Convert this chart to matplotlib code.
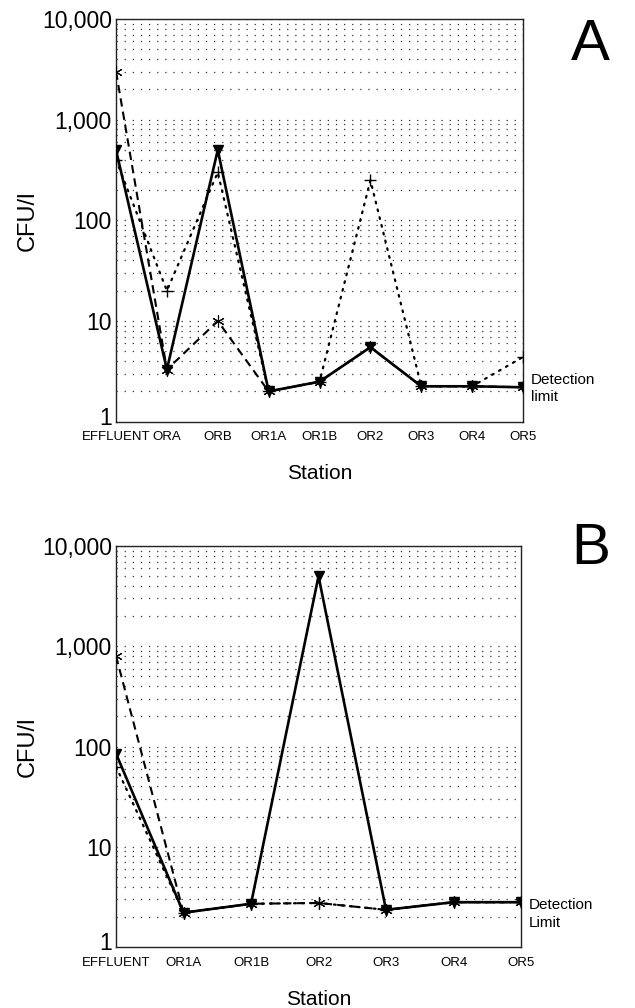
import numpy as np
import matplotlib.pyplot as plt
import matplotlib.transforms as mtransforms
from matplotlib.ticker import FixedLocator, NullFormatter

plt.rcParams['font.family'] = ['Liberation Sans', 'DejaVu Sans']

# ---------- data (CFU/l per station) ----------
stations_a = ['EFFLUENT', 'ORA', 'ORB', 'OR1A', 'OR1B', 'OR2', 'OR3', 'OR4', 'OR5']
a_solid = [500, 3.3, 500, 2.0, 2.5, 5.5, 2.25, 2.25, 2.2]
a_dashed = [3000, 3.3, 10, 2.0, 2.5, 5.5, 2.25, 2.25, 2.2]
a_dotted = [400, 20, 300, 2.0, 2.5, 250, 2.25, 2.25, 4.4]

stations_b = ['EFFLUENT', 'OR1A', 'OR1B', 'OR2', 'OR3', 'OR4', 'OR5']
b_solid = [85, 2.2, 2.7, 5000, 2.35, 2.8, 2.8]
b_dashed = [800, 2.2, 2.7, 2.75, 2.35, 2.8, 2.8]
b_dotted = [63, 2.2, 2.7, 2.75, 2.35, 2.8, 2.8]

yticks = [1, 10, 100, 1000, 10000]
ytick_labels = ['1', '10', '100', '1,000', '10,000']

asterisk = (6, 2, 0)


def draw_panel(fig, ax, stations, solid, dashed, dotted, det_text):
    x = np.arange(len(stations))
    ax.set_yscale('log')
    ax.set_ylim(1, 10000)
    ax.set_xlim(0, len(stations) - 1)

    # dotted horizontal grid on every minor/major level
    levels = [m * 10 ** d for d in range(4) for m in range(1, 10)][1:] + [10000]
    for lv in levels:
        ax.axhline(lv, color='#333333', lw=0.9, ls=(0, (1, 5.5)), zorder=1)

    ax.plot(x, dotted, color='black', lw=1.6, ls=(0, (0.8, 2.8)),
            dash_capstyle='round', marker='+', ms=9, mew=1.0, zorder=3)
    ax.plot(x, dashed, color='black', lw=1.5, ls=(0, (4, 2.5)),
            marker=asterisk, ms=9, mew=0.8, zorder=3)
    ax.plot(x, solid, color='black', lw=1.9, marker='v', ms=6.5, zorder=4)

    ax.yaxis.set_major_locator(FixedLocator(yticks))
    ax.yaxis.set_minor_locator(FixedLocator([]))
    ax.yaxis.set_minor_formatter(NullFormatter())
    # the "1" is drawn by hand so it can sit right on the axis line
    ax.set_yticklabels([''] + ytick_labels[1:], fontsize=16.5)
    ytr = ax.get_yaxis_transform()
    one_tr = mtransforms.offset_copy(ytr, fig=fig, x=-4, y=-3, units='dots')
    ax.text(0, yticks[0], ytick_labels[0], transform=one_tr, fontsize=16.5,
            ha='right', va='baseline')

    ax.set_xticks(x)
    ax.set_xticklabels(stations, fontsize=9.5)
    ax.tick_params(axis='both', length=0)
    ax.tick_params(axis='y', pad=3)
    ax.tick_params(axis='x', pad=7)
    for s in ax.spines.values():
        s.set_linewidth(1.0)
        s.set_color('#222222')

    ax.set_ylabel('CFU/l', fontsize=17, labelpad=2)
    ax.set_xlabel('Station', fontsize=15, labelpad=15)

    ax.text(1.02, 2.6, det_text[0], transform=ytr, fontsize=11,
            va='center', ha='left')
    ax.text(1.02, 1.75, det_text[1], transform=ytr, fontsize=11,
            va='center', ha='left')


fig = plt.figure(figsize=(6.35, 10.08), dpi=100)
ax_a = fig.add_axes([0.1827, 0.5816, 0.641, 0.3996])
ax_b = fig.add_axes([0.1827, 0.0605, 0.6378, 0.3978])

draw_panel(fig, ax_a, stations_a, a_solid, a_dashed, a_dotted, ('Detection', 'limit'))
draw_panel(fig, ax_b, stations_b, b_solid, b_dashed, b_dotted, ('Detection', 'Limit'))

fig.text(0.93, 0.955, 'A', fontsize=42, ha='center', va='center')
fig.text(0.93, 0.455, 'B', fontsize=42, ha='center', va='center')

fig.savefig('out.png', dpi=100)
